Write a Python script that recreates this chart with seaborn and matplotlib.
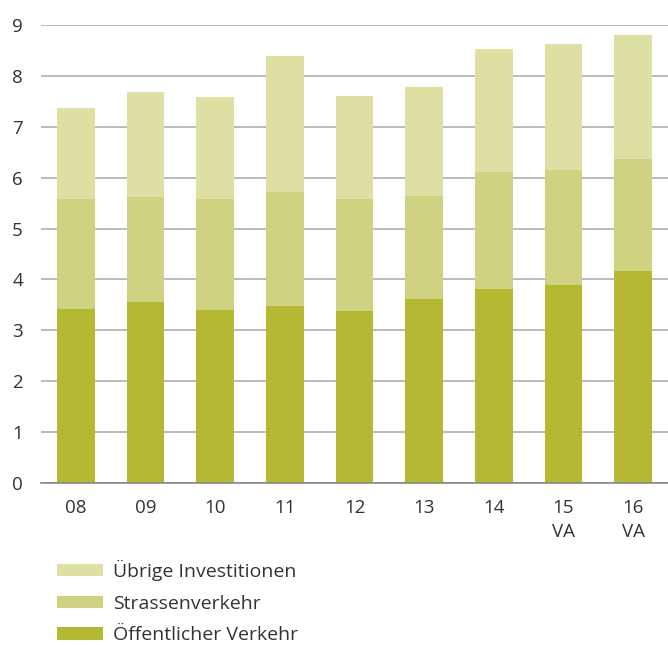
import matplotlib
matplotlib.use("Agg")
import matplotlib.pyplot as plt
import seaborn as sns
import numpy as np
import pandas as pd
from matplotlib.patches import Patch

years = ["08", "09", "10", "11", "12", "13", "14", "15\nVA", "16\nVA"]
oeffentlicher = [3.42, 3.56, 3.40, 3.48, 3.38, 3.61, 3.81, 3.89, 4.17]
strassen = [2.16, 2.06, 2.19, 2.24, 2.20, 2.03, 2.31, 2.26, 2.20]
uebrige = [1.78, 2.06, 2.00, 2.67, 2.02, 2.14, 2.40, 2.48, 2.44]
labels = ["Übrige Investitionen", "Strassenverkehr", "Öffentlicher Verkehr"]
colors = ["#dedfa3", "#cfd280", "#b5b833"]

sns.set_style("white")
plt.rcParams["font.family"] = ["Open Sans", "DejaVu Sans"]

df = pd.DataFrame({"year": years, "oeff": oeffentlicher, "str": strassen, "ueb": uebrige})
df["lvl1"] = df["oeff"]
df["lvl2"] = df["oeff"] + df["str"]
df["lvl3"] = df["lvl2"] + df["ueb"]

fig = plt.figure(figsize=(6.68, 6.45), dpi=100)
ax = fig.add_axes([41/668, 162/645, 1 - 41/668, 458/645])

for col, c in zip(["lvl3", "lvl2", "lvl1"], colors):
    sns.barplot(data=df, x="year", y=col, color=c, width=0.545, ax=ax,
                saturation=1, linewidth=0, zorder=3)

ax.set_ylim(0, 9)
ax.set_xlim(-0.5, 8.5)
ax.set_yticks(range(0, 10))
ax.yaxis.grid(True, color="#a8a8a8", linewidth=1.1, zorder=0)
ax.set_axisbelow(True)
for s in ["top", "right", "left"]:
    ax.spines[s].set_visible(False)
ax.spines["bottom"].set_color("#888888")
ax.spines["bottom"].set_linewidth(1.2)
ax.spines["bottom"].set_zorder(5)
ax.tick_params(axis="both", length=0, labelsize=13.5, colors="#333333")
ax.tick_params(axis="y", pad=13)
ax.tick_params(axis="x", pad=11.5)
ax.set_xlabel("")
ax.set_ylabel("")
for t in ax.get_xticklabels():
    t.set_linespacing(1.4)

handles = [Patch(facecolor=c, edgecolor="none") for c in colors]
fig.legend(handles, labels, loc="upper left", bbox_to_anchor=(57/668, 1 - 560/645),
           frameon=False, fontsize=14, handlelength=2.37, handleheight=0.6,
           handletextpad=0.5, labelspacing=0.7, labelcolor="#333333",
           borderpad=0, borderaxespad=0)

fig.savefig("out.png", dpi=100)
